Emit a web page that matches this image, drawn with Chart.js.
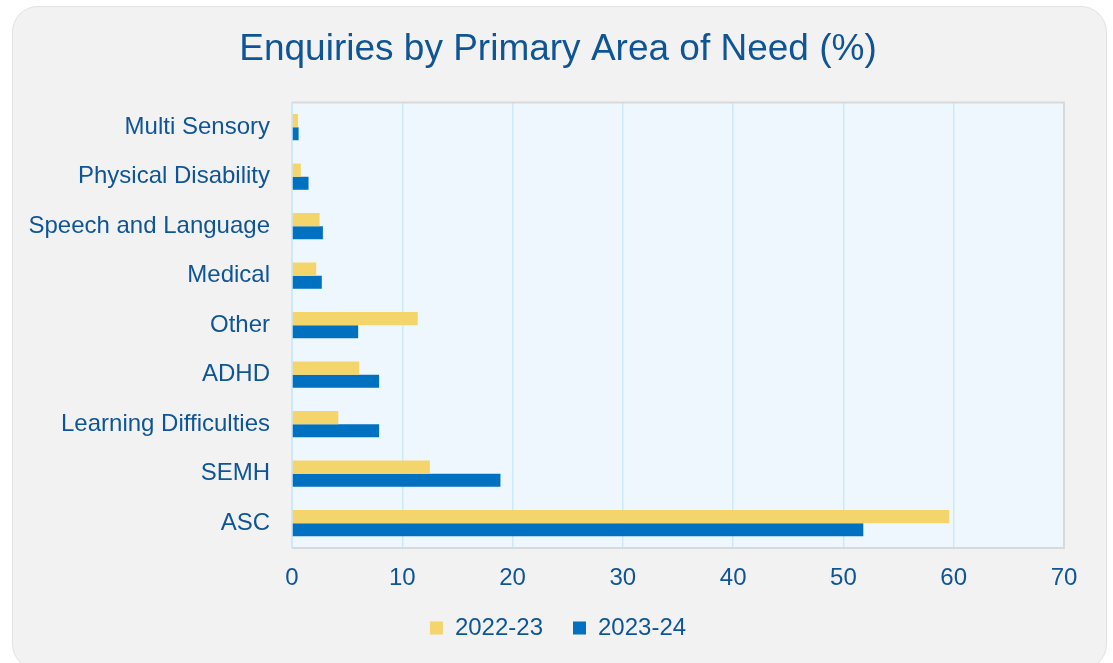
<!DOCTYPE html>
<html>
<head>
<meta charset="utf-8">
<script src="https://cdn.jsdelivr.net/npm/chart.js@4"></script>
<style>
  html, body { margin: 0; padding: 0; background: #ffffff; }
  body { width: 1113px; height: 663px; position: relative; overflow: hidden; }
  .card {
    position: absolute; left: 12px; top: 6px; width: 1093px; height: 662px;
    background: #f2f2f2; border: 1.5px solid #e2e2e2; border-radius: 26px;
  }
  #wrap { position: absolute; left: 0; top: 0; width: 1113px; height: 663px; }
</style>
</head>
<body>
<div class="card"></div>
<div id="wrap"><canvas id="needChart" width="1113" height="663"></canvas></div>
<script>
// values (percent of enquiries)
const areas = ['Multi Sensory', 'Physical Disability', 'Speech and Language', 'Medical', 'Other',
               'ADHD', 'Learning Difficulties', 'SEMH', 'ASC'];
const year2223 = [0.55, 0.8, 2.5, 2.2, 11.4, 6.1, 4.2, 12.5, 59.6];
const year2324 = [0.6, 1.5, 2.8, 2.7, 6.0, 7.9, 7.9, 18.9, 51.8];
const seriesNames = ['2022-23', '2023-24'];

const textColor = '#0f5596';
const fontFamily = '"Liberation Sans", Arial, sans-serif';

const plotBackground = {
    id: 'plotBackground',
    afterLayout(chart) {
        // title and legend sit centred on the card, not on the chart box
        chart.titleBlock.left = 52;
        chart.legend.left = 52;
    },
    beforeDraw(chart) {
        const { ctx, chartArea: a } = chart;
        ctx.save();
        ctx.fillStyle = '#eff7fe';
        ctx.fillRect(a.left, a.top, a.right - a.left, a.bottom - a.top);
        ctx.restore();
    },
    beforeDatasetsDraw(chart) {
        const { ctx, chartArea: a } = chart;
        ctx.save();
        ctx.strokeStyle = '#d9d9d9';
        ctx.lineWidth = 2;
        ctx.beginPath();
        ctx.moveTo(a.left, a.top);
        ctx.lineTo(a.right, a.top);
        ctx.lineTo(a.right, a.bottom);
        ctx.lineTo(a.left, a.bottom);
        ctx.stroke();
        ctx.strokeStyle = '#cde7fb';
        ctx.beginPath();
        ctx.moveTo(a.left, a.top);
        ctx.lineTo(a.left, a.bottom);
        ctx.stroke();
        ctx.restore();
    }
};

const ctx = document.getElementById('needChart').getContext('2d');
new Chart(ctx, {
    type: 'bar',
    data: {
        labels: areas,
        datasets: [{
            label: seriesNames[0],
            data: year2223,
            backgroundColor: '#f3d56b',
            categoryPercentage: 0.53,
            barPercentage: 1.0
        }, {
            label: seriesNames[1],
            data: year2324,
            backgroundColor: '#0070c0',
            categoryPercentage: 0.53,
            barPercentage: 1.0
        }]
    },
    options: {
        indexAxis: 'y',
        responsive: false,
        maintainAspectRatio: false,
        animation: false,
        devicePixelRatio: 1,
        layout: { padding: { left: 0, right: 49, top: 0, bottom: 13 } },
        scales: {
            x: {
                min: 0,
                max: 70,
                ticks: { stepSize: 10, color: textColor, font: { family: fontFamily, size: 24 }, padding: 16 },
                grid: { color: '#cde7fb', lineWidth: 1.5, drawTicks: false },
                border: { display: false },
                afterFit(scale) { scale.height = 38; }
            },
            y: {
                ticks: { color: textColor, font: { family: fontFamily, size: 24 }, padding: 22 },
                grid: { display: false, drawTicks: false },
                border: { display: false },
                afterFit(scale) { scale.width = 292; }
            }
        },
        plugins: {
            title: {
                display: true,
                text: 'Enquiries by Primary Area of Need (%)',
                color: textColor,
                font: { family: fontFamily, size: 37, weight: 'normal' },
                padding: { top: 28, bottom: 30 }
            },
            legend: {
                position: 'bottom',
                labels: {
                    color: textColor,
                    font: { family: fontFamily, size: 24 },
                    boxWidth: 13,
                    boxHeight: 13,
                    padding: 30
                }
            },
            tooltip: { enabled: false }
        }
    },
    plugins: [plotBackground]
});
</script>
</body>
</html>
